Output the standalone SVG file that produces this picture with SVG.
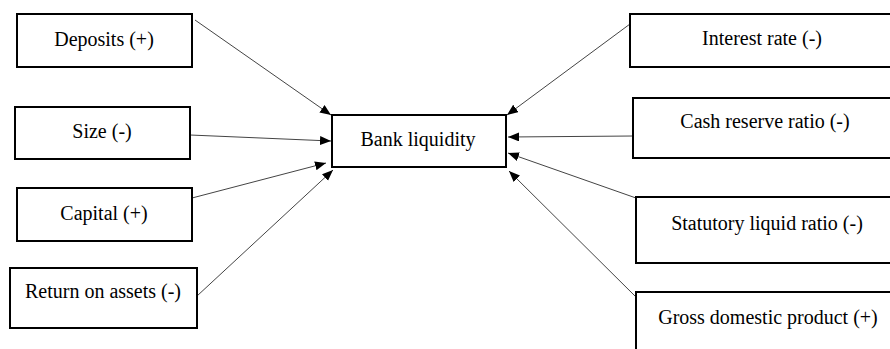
<svg xmlns="http://www.w3.org/2000/svg" width="890" height="349" viewBox="0 0 890 349">
<style>
.box{fill:#fff;stroke:#000;stroke-width:2}
.lbl{font-family:'Liberation Serif','Times New Roman','DejaVu Serif',serif;font-size:20px;fill:#000;text-anchor:middle}
.conn{stroke:#444;stroke-width:1;fill:none;marker-end:url(#ah)}
</style>
<defs>
<marker id="ah" markerUnits="userSpaceOnUse" markerWidth="12" markerHeight="10" refX="11" refY="4.5" orient="auto">
<path d="M0,0 L11,4.5 L0,9 z" fill="#000"/>
</marker>
</defs>
<rect width="890" height="349" fill="#fff"/>
<g id="connectors">
<line class="conn" x1="195" y1="20" x2="331" y2="115"/>
<line class="conn" x1="190" y1="135" x2="331" y2="141"/>
<line class="conn" x1="192" y1="198" x2="326" y2="163"/>
<line class="conn" x1="197" y1="296" x2="333" y2="170"/>
<line class="conn" x1="630" y1="24" x2="507" y2="115"/>
<line class="conn" x1="633" y1="136" x2="508" y2="137"/>
<line class="conn" x1="636" y1="198" x2="508" y2="153"/>
<line class="conn" x1="636" y1="297" x2="509" y2="171"/>
</g>
<g id="bank-liquidity"><rect class="box" x="332" y="115" width="174" height="52"/><text class="lbl" x="418" y="146">Bank liquidity</text></g>
<g id="deposits"><rect class="box" x="17" y="14" width="175" height="53"/><text class="lbl" x="104" y="46">Deposits (+)</text></g>
<g id="size"><rect class="box" x="15" y="107" width="175" height="52"/><text class="lbl" x="102" y="138">Size (-)</text></g>
<g id="capital"><rect class="box" x="17" y="188" width="175" height="53"/><text class="lbl" x="104" y="220">Capital (+)</text></g>
<g id="return-on-assets"><rect class="box" x="10" y="268" width="187" height="60"/><text class="lbl" x="103" y="298">Return on assets (-)</text></g>
<g id="interest-rate"><rect class="box" x="630" y="14" width="270" height="53"/><text class="lbl" x="762" y="45">Interest rate (-)</text></g>
<g id="cash-reserve-ratio"><rect class="box" x="633" y="98" width="267" height="60"/><text class="lbl" x="765" y="128">Cash reserve ratio (-)</text></g>
<g id="statutory-liquid-ratio"><rect class="box" x="636" y="197" width="264" height="66"/><text class="lbl" x="767" y="230">Statutory liquid ratio (-)</text></g>
<g id="gdp"><rect class="box" x="636" y="292" width="264" height="70"/><text class="lbl" x="768" y="324">Gross domestic product (+)</text></g>
</svg>
